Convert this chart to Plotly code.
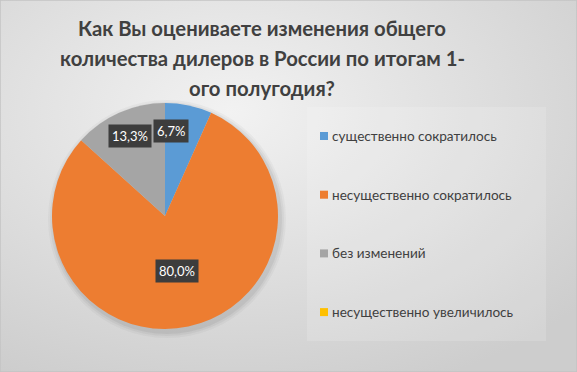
import base64, math
import plotly.graph_objects as go

# ---- data ----
categories = ["существенно сократилось", "несущественно сократилось", "без изменений", "несущественно увеличилось"]
values = [6.7, 80.0, 13.3, 0.0]
colors = ["#5B9BD5", "#ED7D31", "#A5A5A5", "#FFC000"]
title_lines = ["Как Вы оцениваете изменения общего",
               "количества дилеров в России по итогам 1-",
               "ого полугодия?"]

W, H = 577, 372
FONT = "Lato"
TXT = "#404040"

# pie placement (pixels)
cx, cy, r = 165, 216, 113
dom_x = [(cx - r) / W, (cx + r) / W]
dom_y = [1 - (cy + r) / H, 1 - (cy - r) / H]

# background gradient as svg image
svg = f'''<svg xmlns="http://www.w3.org/2000/svg" width="{W}" height="{H}" viewBox="0 0 {W} {H}" preserveAspectRatio="none">
<defs><radialGradient id="g" cx="40%" cy="30%" r="80%">
<stop offset="0%" stop-color="#f2f2f2"/><stop offset="100%" stop-color="#cdcdcd"/></radialGradient></defs>
<rect width="{W}" height="{H}" fill="url(#g)"/></svg>'''
uri = "data:image/svg+xml;base64," + base64.b64encode(svg.encode()).decode()

fig = go.Figure()
fig.add_trace(go.Pie(
    labels=categories, values=values, sort=False, direction="clockwise", rotation=0,
    marker=dict(colors=colors, line=dict(width=0)), textinfo="none", showlegend=False,
    domain=dict(x=dom_x, y=dom_y), hoverinfo="label+percent",
))

shapes = []
# pie shadow
for k, a in [(6, 0.03), (4, 0.04), (2, 0.05)]:
    shapes.append(dict(type="circle", xref="paper", yref="paper", layer="below",
                       x0=(cx - r - k + 2) / W, x1=(cx + r + k + 2) / W,
                       y0=1 - (cy + r + k + 3) / H, y1=1 - (cy - r - k + 3) / H,
                       fillcolor=f"rgba(0,0,0,{a})", line=dict(width=0)))
# legend panel
shapes.append(dict(type="rect", xref="paper", yref="paper", layer="below",
                   x0=307 / W, x1=546 / W, y0=1 - 341 / H, y1=1 - 107 / H,
                   fillcolor="rgba(255,255,255,0.15)", line=dict(width=0)))
# outer border
shapes.append(dict(type="rect", xref="paper", yref="paper", layer="above",
                   x0=0, x1=1, y0=0, y1=1, fillcolor="rgba(0,0,0,0)",
                   line=dict(color="#c4c4c4", width=1.5)))

annotations = []
# title (one annotation per line for Excel-like line spacing)
for j, line in enumerate(title_lines):
    annotations.append(dict(xref="paper", yref="paper", x=262 / W, y=1 - (28 + 30 * j) / H,
                            xanchor="center", yanchor="middle", showarrow=False, text=line,
                            font=dict(family=FONT, size=20.3, color=TXT, weight="bold")))
# legend entries
leg_y0, leg_dy = 136, 58.7
for i, (lab, col) in enumerate(zip(categories, colors)):
    y = leg_y0 + i * leg_dy
    shapes.append(dict(type="rect", xref="paper", yref="paper",
                       x0=320 / W, x1=328 / W, y0=1 - (y + 4) / H, y1=1 - (y - 4) / H,
                       fillcolor=col, line=dict(width=0)))
    annotations.append(dict(xref="paper", yref="paper", x=330 / W, y=1 - y / H,
                            xanchor="left", yanchor="middle", showarrow=False, text=lab,
                            font=dict(family=FONT, size=13.6, color=TXT)))

# data labels
radial = [0.77, 0.5, 0.77, 0.77]
xshift = [-12, 0, 0, 0]
tot = sum(values)
cum = 0
for i, v in enumerate(values):
    frac = v / tot
    mid = (cum + frac / 2) * 2 * math.pi
    cum += frac
    if v <= 0:
        continue
    px = cx + radial[i] * r * math.sin(mid) + xshift[i]
    py = cy - radial[i] * r * math.cos(mid)
    txt = f"{v:.1f}".replace(".", ",") + "%"
    annotations.append(dict(xref="paper", yref="paper", x=px / W, y=1 - py / H,
                            xanchor="center", yanchor="middle", showarrow=False, text=txt,
                            bgcolor="#3d3d3d", borderpad=3,
                            font=dict(family=FONT, size=13, color="white")))

fig.update_layout(
    width=W, height=H, margin=dict(l=0, r=0, t=0, b=0),
    paper_bgcolor="#dedede",
    images=[dict(source=uri, xref="paper", yref="paper", x=0, y=1, sizex=1, sizey=1,
                 xanchor="left", yanchor="top", sizing="stretch", layer="below")],
    shapes=shapes, annotations=annotations,
)
fig.write_html("out.html", config={"displayModeBar": False},
               post_script="document.body.style.margin='0';")
